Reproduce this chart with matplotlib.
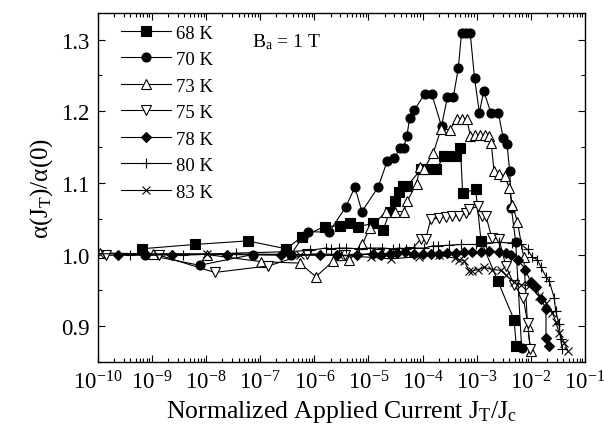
import matplotlib
matplotlib.use("Agg")
import matplotlib.pyplot as plt
import matplotlib.ticker as ticker
import numpy as np

# data: x as log10(J_T/J_c), y as alpha(J_T)/alpha(0)
lx_68 = [-9.19, -8.21, -7.23, -6.52, -6.22, -5.81, -5.52, -5.34, -5.20, -4.91,
         -4.73, -4.61, -4.50, -4.43, -4.37, -4.28, -4.03, -3.91, -3.75, -3.60,
         -3.54, -3.38, -3.30, -3.26, -3.02, -2.92, -2.61, -2.31, -2.27]
y_68 = [1.008, 1.014, 1.019, 1.008, 1.025, 1.039, 1.040, 1.044, 1.038, 1.044,
        1.034, 1.059, 1.075, 1.087, 1.095, 1.096, 1.119, 1.119, 1.119, 1.137,
        1.137, 1.137, 1.149, 1.086, 1.091, 1.019, 0.963, 0.909, 0.873]

lx_70 = [-9.12, -8.12, -7.13, -6.43, -6.21, -6.12, -5.73, -5.42, -5.25, -5.12,
         -4.82, -4.65, -4.52, -4.42, -4.35, -4.29, -4.24, -4.15, -3.96, -3.83,
         -3.65, -3.54, -3.43, -3.34, -3.28, -3.20, -3.12, -3.04, -2.95, -2.87,
         -2.74, -2.60, -2.51, -2.44, -2.39, -2.36, -2.28, -2.17]
y_70 = [1.000, 0.985, 1.000, 1.000, 1.025, 1.032, 1.031, 1.066, 1.094, 1.060,
        1.094, 1.131, 1.134, 1.149, 1.149, 1.165, 1.190, 1.202, 1.224, 1.224,
        1.179, 1.220, 1.220, 1.260, 1.309, 1.309, 1.309, 1.246, 1.198, 1.228,
        1.198, 1.198, 1.162, 1.154, 1.116, 1.065, 1.018, 0.869]

lx_73 = [-9.96, -8.98, -7.99, -6.98, -6.27, -5.97, -5.65, -5.35, -5.11, -4.98,
         -4.67, -4.51, -4.35, -4.28, -4.11, -4.05, -3.97, -3.80, -3.66, -3.50,
         -3.37, -3.28, -3.18, -3.12, -3.03, -2.93, -2.84, -2.77, -2.73, -2.68,
         -2.58, -2.48, -2.40, -2.34, -2.25, -2.13, -2.06, -2.00]
y_73 = [1.002, 1.001, 1.000, 0.990, 0.988, 0.969, 0.991, 0.992, 1.014, 1.037,
        1.060, 1.060, 1.060, 1.075, 1.099, 1.122, 1.120, 1.142, 1.175, 1.174,
        1.189, 1.189, 1.189, 1.166, 1.167, 1.167, 1.167, 1.165, 1.155, 1.116,
        1.112, 1.110, 1.093, 1.069, 1.046, 0.996, 0.900, 0.865]

lx_75 = [-9.84, -8.86, -7.84, -6.85, -6.14, -5.44, -4.80, -4.24, -4.03, -3.94,
         -3.85, -3.69, -3.57, -3.45, -3.32, -3.20, -3.14, -2.98, -2.90, -2.83,
         -2.72, -2.59, -2.46, -2.31, -2.14, -2.06, -2.01]
y_75 = [0.999, 0.999, 0.975, 0.984, 1.001, 1.000, 1.001, 1.003, 1.022, 1.022,
        1.049, 1.051, 1.053, 1.054, 1.054, 1.058, 1.063, 1.067, 1.054, 1.054,
        1.023, 1.022, 0.984, 0.958, 0.939, 0.905, 0.868]

lx_78 = [-9.63, -8.62, -7.62, -6.62, -5.90, -5.58, -5.22, -4.91, -4.76, -4.60,
         -4.48, -4.32, -4.15, -4.00, -3.84, -3.69, -3.54, -3.39, -3.23, -3.08,
         -2.92, -2.77, -2.58, -2.45, -2.36, -2.23, -2.10, -2.00, -1.91, -1.81,
         -1.72, -1.72, -1.66]
y_78 = [1.000, 1.000, 1.000, 0.999, 0.999, 0.999, 0.999, 1.001, 1.000, 1.001,
        1.002, 1.003, 1.001, 1.001, 1.001, 1.001, 1.002, 1.002, 1.003, 1.003,
        1.003, 1.005, 1.003, 1.002, 1.000, 0.992, 0.979, 0.961, 0.954, 0.938,
        0.924, 0.884, 0.873]

lx_80 = [-9.41, -8.43, -7.44, -6.46, -6.07, -5.78, -5.69, -5.54, -5.41, -5.17,
         -4.98, -4.74, -4.55, -4.43, -4.31, -4.15, -3.97, -3.81, -3.72, -3.51,
         -3.29, -3.02, -2.83, -2.58, -2.34, -2.18, -2.06, -1.97, -1.88, -1.81,
         -1.72, -1.66, -1.57, -1.54, -1.48, -1.45, -1.42]
y_80 = [1.000, 0.999, 1.002, 1.004, 1.006, 1.009, 1.008, 1.009, 1.009, 1.008,
        1.009, 1.009, 1.008, 1.009, 1.008, 1.009, 1.009, 1.012, 1.012, 1.013,
        1.014, 1.014, 1.016, 1.017, 1.016, 1.014, 1.007, 0.996, 0.993, 0.982,
        0.969, 0.963, 0.940, 0.921, 0.903, 0.882, 0.868]

lx_83 = [-9.95, -7.98, -6.27, -5.54, -4.95, -4.59, -4.06, -3.69, -3.41, -3.32,
         -3.23, -3.14, -3.08, -2.98, -2.86, -2.71, -2.55, -2.46, -2.31, -2.18,
         -2.03, -1.85, -1.72, -1.60, -1.54, -1.48, -1.38, -1.32]
y_83 = [1.001, 1.001, 1.000, 0.999, 0.996, 0.994, 0.997, 0.999, 0.995, 0.993,
        0.991, 0.977, 0.977, 0.979, 0.982, 0.979, 0.978, 0.971, 0.961, 0.958,
        0.956, 0.942, 0.933, 0.919, 0.906, 0.891, 0.877, 0.866]

labels = ["68 K", "70 K", "73 K", "75 K", "78 K", "80 K", "83 K"]

plt.rcParams['font.family'] = ['Liberation Serif', 'DejaVu Serif']
plt.rcParams['mathtext.fontset'] = 'custom'
plt.rcParams['mathtext.rm'] = 'Liberation Serif'
plt.rcParams['mathtext.it'] = 'Liberation Serif:italic'

fig = plt.figure(figsize=(6.04, 4.39), dpi=100)
ax = fig.add_axes([0.1618, 0.1731, 0.8067, 0.7950])

series = [(lx_68, y_68, dict(marker='s', mfc='black')),
          (lx_70, y_70, dict(marker='o', mfc='black')),
          (lx_73, y_73, dict(marker='^', mfc='white')),
          (lx_75, y_75, dict(marker='v', mfc='white')),
          (lx_78, y_78, dict(marker='D', mfc='black', markersize=5)),
          (lx_80, y_80, dict(marker='+', mfc='black', markersize=7)),
          (lx_83, y_83, dict(marker='x', mfc='black', markersize=6))]

for (lx, y, style), lab in zip(series, labels):
    kw = dict(color='black', mec='black', markersize=6.5, lw=0.8, mew=0.8)
    kw.update(style)
    ax.plot(10.0 ** np.array(lx), y, label=lab, **kw)

ax.set_xscale('log')
ax.set_xlim(1e-10, 1e-1)
ax.set_ylim(0.85, 1.337)
ax.xaxis.set_major_locator(ticker.LogLocator(base=10, numticks=20))
ax.xaxis.set_minor_locator(ticker.LogLocator(base=10, subs=np.arange(2, 10), numticks=20))
ax.xaxis.set_minor_formatter(ticker.NullFormatter())
ax.yaxis.set_major_locator(ticker.MultipleLocator(0.1))
ax.yaxis.set_minor_locator(ticker.MultipleLocator(0.05))
ax.yaxis.set_major_formatter(ticker.FormatStrFormatter('%.1f'))

ax.tick_params(which='both', direction='in', top=True, right=True, width=0.8)
ax.tick_params(which='major', length=5, labelsize=16.5, pad=6)
ax.tick_params(which='minor', length=3)
for sp in ax.spines.values():
    sp.set_linewidth(1.0)

ax.set_xlabel('Normalized Applied Current J$_\\mathrm{T}$/J$_\\mathrm{c}$', fontsize=18.5, labelpad=3)
ax.set_ylabel('α(J$_\\mathrm{T}$)/α(0)', fontsize=18, labelpad=4)

ax.text(0.317, 0.905, 'B$_\\mathrm{a}$ = 1 T', transform=ax.transAxes, fontsize=14)

ax.legend(loc='upper left', bbox_to_anchor=(0.02, 1.005), frameon=False,
          fontsize=13.5, handlelength=2.7, handletextpad=0.25, labelspacing=0.5,
          borderpad=0.2)

fig.savefig('out.png', dpi=100)
